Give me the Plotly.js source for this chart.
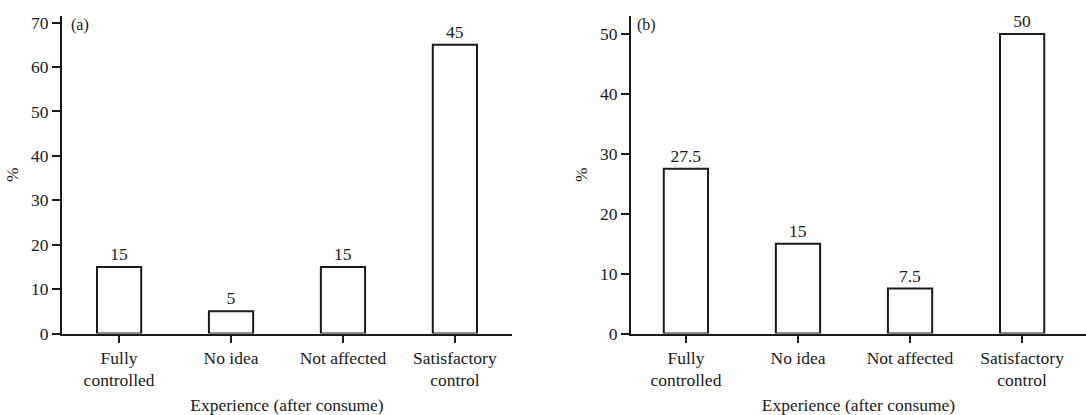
<!DOCTYPE html>
<html>
<head>
<meta charset="utf-8">
<script src="https://cdn.plot.ly/plotly-3.0.1.min.js"></script>
<style>html,body{margin:0;padding:0;background:#fff;}#chart{width:1086px;height:415px;}</style>
</head>
<body>
<div id="chart"></div>
<script>
const categories = ['Fully<br>controlled', 'No idea', 'Not affected', 'Satisfactory<br>control'];
const valuesA = [15, 5, 15, 65];
const labelsA = ['15', '5', '15', '45'];
const valuesB = [27.5, 15, 7.5, 50];
const labelsB = ['27.5', '15', '7.5', '50'];
const xTitle = 'Experience (after consume)';
const yTitle = '%';

const W = 1086, H = 415;
const FONT = 'Liberation Serif';
const fs = 17.5;
const INK = '#1a1a1a';

const barStyle = {
  type: 'bar',
  width: 0.395,
  marker: {color: '#ffffff', line: {color: INK, width: 2}},
  textposition: 'outside',
  cliponaxis: false,
  textfont: {family: FONT, size: fs, color: INK},
  hoverinfo: 'skip',
  showlegend: false
};

const traces = [
  Object.assign({}, barStyle, {x: categories, y: valuesA, text: labelsA, xaxis: 'x', yaxis: 'y'}),
  Object.assign({}, barStyle, {x: categories, y: valuesB, text: labelsB, xaxis: 'x2', yaxis: 'y2'})
];

const yBottom = (H - 333.5) / H;
const yTop = (H - 16) / H;

function xAxis(domain, range) {
  return {
    domain: domain, range: range, type: 'category', layer: 'above traces',
    showline: true, linecolor: INK, linewidth: 2,
    ticks: 'outside', ticklen: 7, tickwidth: 2, tickcolor: INK,
    showgrid: false, zeroline: false, fixedrange: true,
    tickfont: {family: FONT, size: fs, color: INK},
    title: {text: xTitle, font: {family: FONT, size: fs, color: INK}, standoff: 14}
  };
}
function yAxis(range, anchor) {
  return {
    domain: [yBottom, yTop], range: range, anchor: anchor, dtick: 10, tick0: 0, layer: 'above traces',
    showline: true, linecolor: INK, linewidth: 2,
    ticks: 'outside', ticklen: 8, tickwidth: 2, tickcolor: INK,
    showgrid: false, zeroline: false, fixedrange: true,
    tickfont: {family: FONT, size: fs, color: INK},
    title: {text: yTitle, font: {family: FONT, size: fs, color: INK}, standoff: 8}
  };
}

const layout = {
  width: W, height: H,
  margin: {l: 0, r: 0, t: 0, b: 0},
  paper_bgcolor: '#ffffff', plot_bgcolor: '#ffffff',
  font: {family: FONT, size: fs, color: INK},
  xaxis: xAxis([62 / W, 512 / W], [-0.51, 3.51]),
  yaxis: yAxis([0, 71.5], 'x'),
  xaxis2: Object.assign(xAxis([631 / W, 1], [-0.49, 3.57]), {anchor: 'y2'}),
  yaxis2: yAxis([0, 53], 'x2'),
  annotations: [
    {text: '(a)', xref: 'paper', yref: 'paper', x: 69 / W, y: (H - 25) / H, xanchor: 'left', yanchor: 'middle', showarrow: false, font: {family: FONT, size: 16, color: INK}},
    {text: '(b)', xref: 'paper', yref: 'paper', x: 635 / W, y: (H - 25) / H, xanchor: 'left', yanchor: 'middle', showarrow: false, font: {family: FONT, size: 16, color: INK}}
  ]
};

Plotly.newPlot('chart', traces, layout, {displayModeBar: false, staticPlot: true});
</script>
</body>
</html>
